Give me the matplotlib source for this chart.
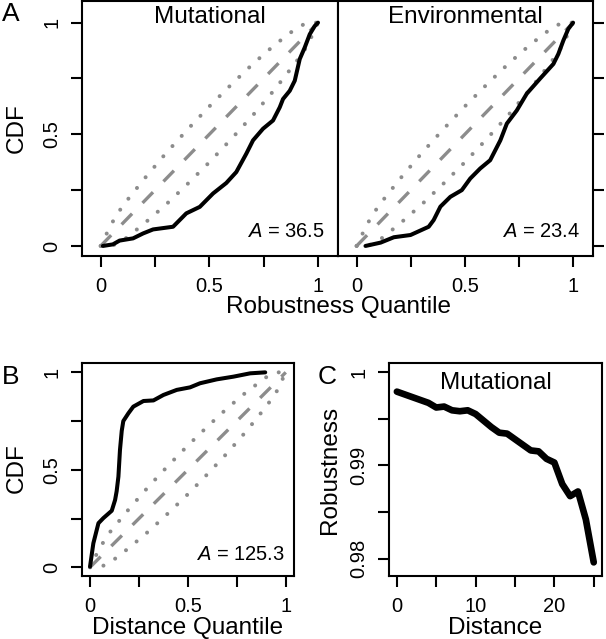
import numpy as np
import matplotlib
matplotlib.use('Agg')
import matplotlib.pyplot as plt

plt.rcParams['font.family'] = ['Liberation Sans', 'DejaVu Sans']
plt.rcParams['mathtext.fontset'] = 'custom'
plt.rcParams['mathtext.it'] = 'Liberation Sans:italic'
plt.rcParams['mathtext.rm'] = 'Liberation Sans'

# panel A, mutational robustness quantile vs CDF
mut_q = [0.01, 0.056, 0.087, 0.149, 0.195, 0.241, 0.333, 0.394, 0.456, 0.517, 0.578, 0.624,
         0.670, 0.701, 0.747, 0.793, 0.824, 0.839, 0.870, 0.893, 0.916, 0.939, 0.962, 0.985, 1.0]
mut_cdf = [0.0, 0.007, 0.024, 0.034, 0.056, 0.074, 0.086, 0.146, 0.175, 0.235, 0.282, 0.331,
           0.413, 0.473, 0.525, 0.562, 0.621, 0.658, 0.695, 0.740, 0.837, 0.889, 0.948, 0.985, 1.0]

# panel A, environmental
env_q = [0.041, 0.111, 0.172, 0.249, 0.333, 0.356, 0.387, 0.433, 0.486, 0.525, 0.571, 0.617,
         0.664, 0.694, 0.740, 0.786, 0.848, 0.909, 0.932, 0.955, 0.978, 1.0]
env_cdf = [0.0, 0.015, 0.039, 0.049, 0.086, 0.116, 0.176, 0.220, 0.250, 0.302, 0.347, 0.384,
           0.473, 0.548, 0.607, 0.682, 0.750, 0.815, 0.860, 0.920, 0.972, 1.0]

# panel B, distance quantile vs CDF
dist_q = [0.0, 0.017, 0.043, 0.068, 0.111, 0.128, 0.136, 0.145, 0.153, 0.162, 0.170, 0.196,
          0.221, 0.273, 0.324, 0.375, 0.443, 0.511, 0.562, 0.647, 0.733, 0.818, 0.895]
dist_cdf = [0.003, 0.123, 0.226, 0.252, 0.290, 0.345, 0.39, 0.465, 0.602, 0.70, 0.75, 0.790,
            0.824, 0.853, 0.856, 0.884, 0.910, 0.923, 0.944, 0.964, 0.978, 0.995, 1.0]

# null band (dashed centre, dotted limits)
band_q = [0, 0.05, 0.1, 0.2, 0.3, 0.4, 0.5, 0.6, 0.7, 0.8, 0.9, 0.95, 1]
band_half = [0, 0.05, 0.078, 0.10, 0.115, 0.122, 0.125, 0.122, 0.115, 0.10, 0.075, 0.055, 0]

# panel C
distance = list(range(26))
robustness = [0.9979, 0.9976, 0.9973, 0.9970, 0.9967, 0.9962, 0.9963, 0.9959, 0.9958, 0.9959,
              0.9955, 0.9948, 0.9941, 0.9935, 0.9934, 0.9928, 0.9922, 0.9916, 0.9915, 0.9907,
              0.9903, 0.9880, 0.9867, 0.9872, 0.9842, 0.9796]

W, H = 606, 639
fig = plt.figure(figsize=(W / 100, H / 100), dpi=100)


def box(x0, y0, x1, y1):
    return fig.add_axes([x0 / W, 1 - y1 / H, (x1 - x0) / W, (y1 - y0) / H])


def ftext(x, y, s, **kw):
    fig.text(x / W, 1 - y / H, s, ha='center', va='center', **kw)


gray = '#8c8c8c'


def style(ax):
    for sp in ax.spines.values():
        sp.set_linewidth(1.5)
    ax.tick_params(length=8, width=1.5, labelsize=14.5, pad=7)


def cdf_panel(ax, q, cdf):
    bq = np.array(band_q)
    bh = np.array(band_half)
    ax.plot(bq, np.clip(bq + bh, 0, 1), color=gray, lw=2.9, linestyle=(0, (0.01, 3.4)),
            dash_capstyle='round')
    ax.plot(bq, np.clip(bq - bh, 0, 1), color=gray, lw=2.9, linestyle=(0, (0.01, 3.4)),
            dash_capstyle='round')
    ax.plot([0, 1], [0, 1], color=gray, lw=2.4, linestyle=(0, (4.5, 4.5)))
    ax.plot(q, cdf, color='black', lw=2.9, solid_capstyle='round', solid_joinstyle='round')
    style(ax)


axL = box(82, 1, 338, 256)
axR = box(338, 1, 593, 256)
axB = box(82, 363, 294, 576)
axC = box(389, 363, 602, 576)

cdf_panel(axL, mut_q, mut_cdf)
cdf_panel(axR, env_q, env_cdf)
cdf_panel(axB, dist_q, dist_cdf)

qt = [0, 0.25, 0.5, 0.75, 1]
ql = ['0', '', '0.5', '', '1']
for ax in (axL, axR):
    ax.set_xlim(-0.086, 1.092)
    ax.set_ylim(-0.045, 1.097)
    ax.set_xticks(qt)
    ax.set_xticklabels(ql)
    ax.set_yticks(qt)
    ax.set_yticklabels(ql)
axR.tick_params(axis='y', left=False, labelleft=False, right=True, labelright=False)

axB.set_xlim(-0.041, 1.042)
axB.set_ylim(-0.045, 1.048)
axB.set_xticks(qt)
axB.set_xticklabels(ql)
axB.set_yticks(qt)
axB.set_yticklabels(ql)

axC.plot(distance, robustness, color='black', lw=4.8, solid_capstyle='round',
         solid_joinstyle='round')
style(axC)
axC.set_xlim(-1.0, 26.05)
axC.set_ylim(0.97814, 1.00097)
axC.set_xticks([0, 5, 10, 15, 20, 25])
axC.set_xticklabels(['0', '', '10', '', '20', ''])
axC.set_yticks([0.98, 0.985, 0.99, 0.995, 1.0])
axC.set_yticklabels(['0.98', '', '0.99', '', '1'])

for ax in (axL, axB, axC):
    plt.setp(ax.get_yticklabels(), rotation=90, va='center')

axL.text(0.5, 0.937, 'Mutational', transform=axL.transAxes, ha='center', va='center', fontsize=17.5)
axR.text(0.5, 0.937, 'Environmental', transform=axR.transAxes, ha='center', va='center', fontsize=17.5)
axC.text(0.5, 0.906, 'Mutational', transform=axC.transAxes, ha='center', va='center', fontsize=17.5)

axL.text(0.949, 0.098, r'$\mathit{A}$ = 36.5', transform=axL.transAxes, ha='right', va='center', fontsize=14.5)
axR.text(0.949, 0.098, r'$\mathit{A}$ = 23.4', transform=axR.transAxes, ha='right', va='center', fontsize=14.5)
axB.text(0.958, 0.099, r'$\mathit{A}$ = 125.3', transform=axB.transAxes, ha='right', va='center', fontsize=14.5)

ftext(17, 128, 'CDF', rotation=90, fontsize=17.5)
ftext(338, 307, 'Robustness Quantile', fontsize=17.5)
ftext(17, 468, 'CDF', rotation=90, fontsize=17.5)
ftext(188, 628, 'Distance Quantile', fontsize=17.5)
ftext(330, 470, 'Robustness', rotation=90, fontsize=17.5)
ftext(495, 628, 'Distance', fontsize=17.5)

ftext(11, 14, 'A', fontsize=19)
ftext(11, 377, 'B', fontsize=19)
ftext(327, 377, 'C', fontsize=19)

fig.savefig('out.png', dpi=100)
